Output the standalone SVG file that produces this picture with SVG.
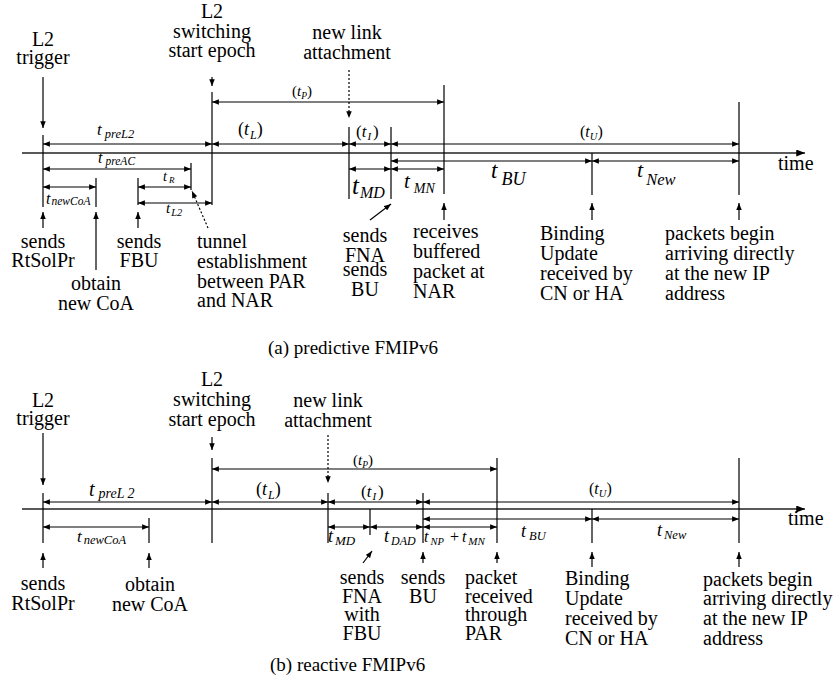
<svg xmlns="http://www.w3.org/2000/svg" width="839" height="688" viewBox="0 0 839 688">
<style>
text { font-family: "Liberation Serif", "Times New Roman", serif; fill: #000; }
.lb { font-size: 20px; }
.cap { font-size: 19px; }
.m { text-anchor: middle; }
.i { font-style: italic; }
.ln { stroke: #000; stroke-width: 1.2; fill: none; }
.ax { stroke: #222; stroke-width: 1.3; fill: none; marker-end: url(#axh); }
.dim { stroke: #000; stroke-width: 1.2; fill: none; marker-start: url(#ah); marker-end: url(#ah); }
.arr { stroke: #000; stroke-width: 1.2; fill: none; marker-end: url(#ah); }
.dot { stroke-dasharray: 2 2; }
</style>
<defs>
<marker id="ah" viewBox="0 0 10 8" refX="10" refY="4" markerWidth="8" markerHeight="5.5" markerUnits="userSpaceOnUse" orient="auto-start-reverse"><path d="M0,0 L10,4 L0,8 z" fill="#000"/></marker>
<marker id="axh" viewBox="0 0 10 8" refX="10" refY="4" markerWidth="13" markerHeight="7" markerUnits="userSpaceOnUse" orient="auto"><path d="M0,0 L10,4 L0,8 z" fill="#000"/></marker>
</defs>
<rect width="839" height="688" fill="#fff"/>

<!-- ================= (a) predictive ================= -->
<g id="a-connectors">
  <path class="ax" d="M22,153 H805"/>
  <path class="ln" d="M43,135 V207 M96,178 V207 M138,178 V205 M191,163 V190 M212,92 V205 M349,127 V199 M391,127 V199 M444,85 V194 M592,153 V195 M739,102 V195"/>
  <path class="arr" d="M43,77 V128"/>
  <path class="arr" d="M212,77 V86"/>
  <path class="arr dot" d="M349,70 V118"/>
  <path class="arr dot" d="M208,228 L192,191"/>
  <path class="arr" d="M43,228 V212"/>
  <path class="arr" d="M96,270 V212"/>
  <path class="arr" d="M138,228 V212"/>
  <path class="arr" d="M370,220 L391,204"/>
  <path class="arr" d="M444,220 V203"/>
  <path class="arr" d="M592,220 V203"/>
  <path class="arr" d="M739,220 V203"/>
  <path class="dim" d="M212,102 H444"/>
  <path class="dim" d="M43,144 H212"/>
  <path class="dim" d="M212,144 H349"/>
  <path class="dim" d="M349,144 H391"/>
  <path class="dim" d="M391,144 H739"/>
  <path class="dim" d="M391,161 H592"/>
  <path class="dim" d="M592,161 H739"/>
  <path class="dim" d="M43,169 H191"/>
  <path class="dim" d="M349,169 H391"/>
  <path class="dim" d="M391,169 H444"/>
  <path class="dim" d="M43,187 H96"/>
  <path class="dim" d="M138,187 H191"/>
  <path class="dim" d="M138,203 H212"/>
</g>

<g id="a-time"><text class="lb" x="778" y="170">time</text></g>
<g id="a-l2trigger"><text class="lb m" x="43" y="46">L2</text><text class="lb m" x="43" y="64">trigger</text></g>
<g id="a-l2switch"><text class="lb m" x="212" y="18">L2</text><text class="lb m" x="212" y="38">switching</text><text class="lb m" x="212" y="57">start epoch</text></g>
<g id="a-newlink"><text class="lb m" x="347" y="39">new link</text><text class="lb m" x="347" y="59">attachment</text></g>

<g id="a-intervals">
  <text x="97" y="135" class="i"><tspan font-size="17">t</tspan><tspan font-size="12.5" dx="3" dy="3">preL2</tspan></text>
  <text x="98" y="163" class="i"><tspan font-size="16">t</tspan><tspan font-size="11.5" dx="3" dy="2">preAC</tspan></text>
  <text x="163" y="181" class="i"><tspan font-size="14">t</tspan><tspan font-size="9" dx="2" dy="2">R</tspan></text>
  <text x="46" y="204" class="i"><tspan font-size="16">t</tspan><tspan font-size="11.5" dx="1" dy="1">newCoA</tspan></text>
  <text x="166" y="213" class="i"><tspan font-size="15">t</tspan><tspan font-size="10.5" dx="1" dy="3">L2</tspan></text>
  <text x="238" y="135" font-size="18">(<tspan class="i">t</tspan><tspan class="i" font-size="12" dx="1" dy="4">L</tspan><tspan dy="-4">)</tspan></text>
  <text x="292" y="96" font-size="15">(<tspan class="i">t</tspan><tspan class="i" font-size="9.5" dy="3">P</tspan><tspan dy="-3">)</tspan></text>
  <text x="356" y="137" font-size="17">(<tspan class="i">t</tspan><tspan class="i" font-size="11" dx="1" dy="3">I</tspan><tspan dx="2" dy="-3">)</tspan></text>
  <text x="580" y="137" font-size="16">(<tspan class="i">t</tspan><tspan class="i" font-size="10.5" dy="3">U</tspan><tspan dy="-3">)</tspan></text>
  <text x="352" y="194" class="i"><tspan font-size="25">t</tspan><tspan font-size="16" dx="1" dy="4">MD</tspan></text>
  <text x="404" y="188" class="i"><tspan font-size="21">t</tspan><tspan font-size="14" dx="4" dy="5">MN</tspan></text>
  <text x="491" y="178" class="i"><tspan font-size="23">t</tspan><tspan font-size="18" dx="4" dy="7">BU</tspan></text>
  <text x="637" y="177" class="i"><tspan font-size="22">t</tspan><tspan font-size="16.5" dx="3" dy="8">New</tspan></text>
</g>

<g id="a-sendsRtSolPr"><text class="lb m" x="43" y="248">sends</text><text class="lb m" x="43" y="267">RtSolPr</text></g>
<g id="a-obtainCoA"><text class="lb m" x="96" y="290">obtain</text><text class="lb m" x="96" y="310">new CoA</text></g>
<g id="a-sendsFBU"><text class="lb m" x="139" y="248">sends</text><text class="lb m" x="139" y="267">FBU</text></g>
<g id="a-tunnel"><text class="lb" x="197" y="248">tunnel</text><text class="lb" x="197" y="268">establishment</text><text class="lb" x="197" y="288">between PAR</text><text class="lb" x="197" y="307">and NAR</text></g>
<g id="a-sendsFNA"><text class="lb m" x="365" y="242">sends</text><text class="lb m" x="365" y="262">FNA</text><text class="lb m" x="365" y="276">sends</text><text class="lb m" x="365" y="296">BU</text></g>
<g id="a-receives"><text class="lb" x="413" y="238">receives</text><text class="lb" x="413" y="258">buffered</text><text class="lb" x="413" y="278">packet at</text><text class="lb" x="413" y="298">NAR</text></g>
<g id="a-binding"><text class="lb" x="540" y="240">Binding</text><text class="lb" x="540" y="260">Update</text><text class="lb" x="540" y="280">received by</text><text class="lb" x="540" y="300">CN or HA</text></g>
<g id="a-packets"><text class="lb" x="665" y="240">packets begin</text><text class="lb" x="665" y="260">arriving directly</text><text class="lb" x="665" y="280">at the new IP</text><text class="lb" x="665" y="300">address</text></g>
<g id="a-caption"><text class="cap" x="268" y="354">(a) predictive FMIPv6</text></g>

<!-- ================= (b) reactive ================= -->
<g id="b-connectors">
  <path class="ax" d="M22,509 H805"/>
  <path class="ln" d="M43,493 V543 M149,518 V543 M212,458 V543 M328,493 V543 M370,509 V535 M423,493 V543 M497,458 V543 M592,509 V543 M739,458 V543"/>
  <path class="arr" d="M43,433 V485"/>
  <path class="arr" d="M212,437 V450"/>
  <path class="arr dot" d="M328,435 V483"/>
  <path class="arr" d="M43,568 V553"/>
  <path class="arr" d="M149,568 V553"/>
  <path class="arr" d="M363,563 L372,551"/>
  <path class="arr" d="M423,563 V552"/>
  <path class="arr" d="M497,563 V552"/>
  <path class="arr" d="M592,567 V552"/>
  <path class="arr" d="M739,567 V552"/>
  <path class="dim" d="M212,469 H497"/>
  <path class="dim" d="M43,502 H212"/>
  <path class="dim" d="M212,502 H328"/>
  <path class="dim" d="M328,502 H423"/>
  <path class="dim" d="M423,502 H739"/>
  <path class="dim" d="M423,519 H592"/>
  <path class="dim" d="M592,519 H739"/>
  <path class="dim" d="M43,527 H149"/>
  <path class="dim" d="M328,527 H370"/>
  <path class="dim" d="M370,527 H423"/>
  <path class="dim" d="M423,527 H497"/>
</g>

<g id="b-time"><text class="lb" x="788" y="525">time</text></g>
<g id="b-l2trigger"><text class="lb m" x="43" y="407">L2</text><text class="lb m" x="43" y="425">trigger</text></g>
<g id="b-l2switch"><text class="lb m" x="212" y="386">L2</text><text class="lb m" x="212" y="406">switching</text><text class="lb m" x="212" y="426">start epoch</text></g>
<g id="b-newlink"><text class="lb m" x="328" y="407">new link</text><text class="lb m" x="328" y="427">attachment</text></g>

<g id="b-intervals">
  <text x="89" y="496" class="i"><tspan font-size="20">t</tspan><tspan font-size="14" dx="4" dy="2">preL</tspan><tspan font-size="14" dx="3">2</tspan></text>
  <text x="77" y="542" class="i"><tspan font-size="17">t</tspan><tspan font-size="12.5" dx="2" dy="2">newCoA</tspan></text>
  <text x="256" y="495" font-size="18">(<tspan class="i">t</tspan><tspan class="i" font-size="12" dx="1" dy="4">L</tspan><tspan dy="-4">)</tspan></text>
  <text x="353" y="465" font-size="15">(<tspan class="i">t</tspan><tspan class="i" font-size="9.5" dy="3">P</tspan><tspan dy="-3">)</tspan></text>
  <text x="361" y="497" font-size="17">(<tspan class="i">t</tspan><tspan class="i" font-size="11" dx="1" dy="3">I</tspan><tspan dx="2" dy="-3">)</tspan></text>
  <text x="589" y="494" font-size="16">(<tspan class="i">t</tspan><tspan class="i" font-size="10.5" dy="3">U</tspan><tspan dy="-3">)</tspan></text>
  <text x="328" y="542" class="i"><tspan font-size="18">t</tspan><tspan font-size="13" dx="2" dy="3">MD</tspan></text>
  <text x="384" y="542" class="i"><tspan font-size="18">t</tspan><tspan font-size="12" dx="2" dy="3">DAD</tspan></text>
  <text x="424" y="542" class="i"><tspan font-size="16">t</tspan><tspan font-size="10.5" dx="2" dy="3">NP</tspan><tspan font-style="normal" font-size="16" dx="6" dy="-3">+</tspan><tspan font-size="16" dx="3">t</tspan><tspan font-size="11" dx="2" dy="3">MN</tspan></text>
  <text x="521" y="537" class="i"><tspan font-size="18">t</tspan><tspan font-size="12.5" dx="3" dy="3">BU</tspan></text>
  <text x="657" y="536" class="i"><tspan font-size="18">t</tspan><tspan font-size="12.5" dx="2" dy="3">New</tspan></text>
</g>

<g id="b-sendsRtSolPr"><text class="lb m" x="43" y="590">sends</text><text class="lb m" x="43" y="610">RtSolPr</text></g>
<g id="b-obtainCoA"><text class="lb m" x="150" y="591">obtain</text><text class="lb m" x="150" y="611">new CoA</text></g>
<g id="b-sendsFNA"><text class="lb m" x="362" y="584">sends</text><text class="lb m" x="362" y="603">FNA</text><text class="lb m" x="362" y="621">with</text><text class="lb m" x="362" y="640">FBU</text></g>
<g id="b-sendsBU"><text class="lb m" x="423" y="584">sends</text><text class="lb m" x="423" y="603">BU</text></g>
<g id="b-packetPAR"><text class="lb" x="465" y="584">packet</text><text class="lb" x="465" y="603">received</text><text class="lb" x="465" y="621">through</text><text class="lb" x="465" y="640">PAR</text></g>
<g id="b-binding"><text class="lb" x="565" y="585">Binding</text><text class="lb" x="565" y="605">Update</text><text class="lb" x="565" y="625">received by</text><text class="lb" x="565" y="645">CN or HA</text></g>
<g id="b-packets"><text class="lb" x="703" y="586">packets begin</text><text class="lb" x="703" y="605">arriving directly</text><text class="lb" x="703" y="625">at the new IP</text><text class="lb" x="703" y="645">address</text></g>
<g id="b-caption"><text class="cap" x="270" y="671">(b) reactive FMIPv6</text></g>
</svg>
